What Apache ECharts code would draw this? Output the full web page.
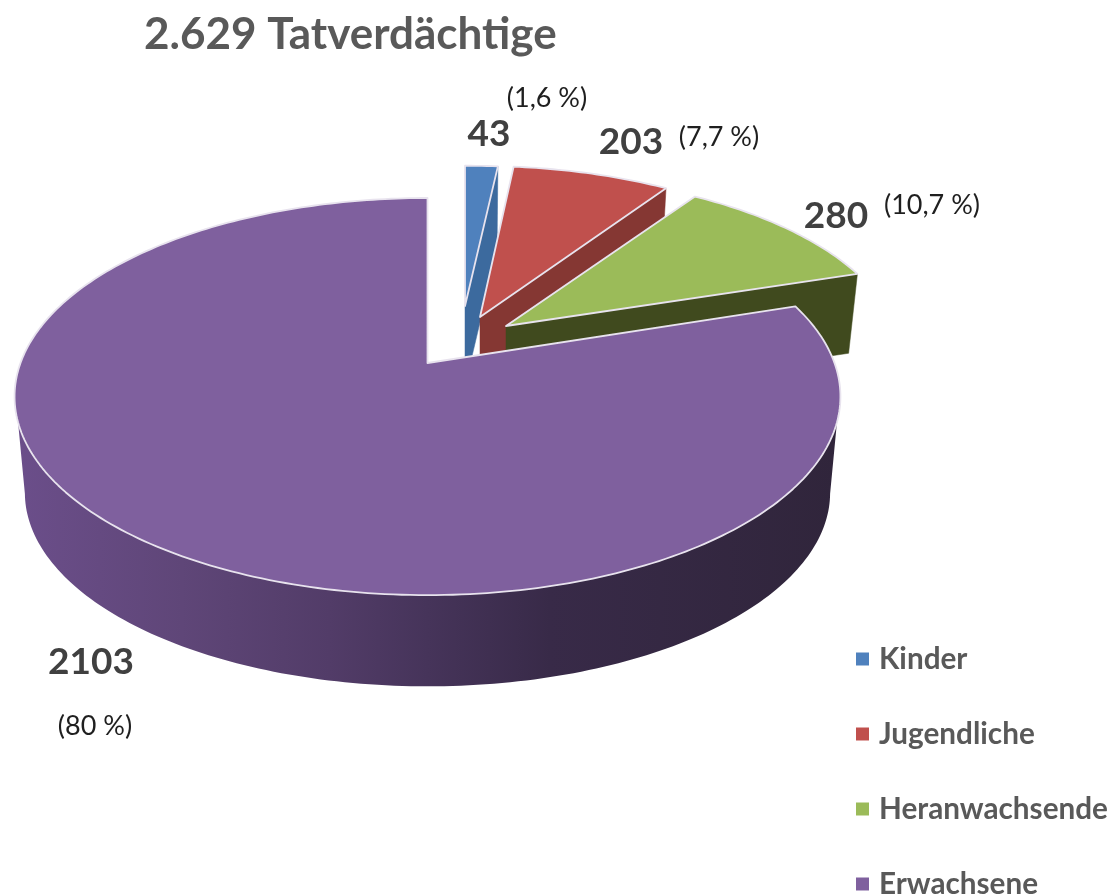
<!DOCTYPE html>
<html>
<head>
<meta charset="utf-8">
<style>html,body{margin:0;padding:0;background:#fff;overflow:hidden}#c{width:1113px;height:896px}</style>
<script src="https://cdn.jsdelivr.net/npm/echarts@6/dist/echarts.min.js"></script>
</head>
<body>
<div id="c"></div>
<script>
const titleText = '2.629 Tatverdächtige';
const categories = ['Kinder', 'Jugendliche', 'Heranwachsende', 'Erwachsene'];
const values = [43, 203, 280, 2103];
const percentLabels = ['(1,6 %)', '(7,7 %)', '(10,7 %)', '(80 %)'];

// styling and layout, separate from the data
const topColors = ['#4f81bd', '#c0504d', '#9bbb59', '#7f609e'];
const cutColors = ['#3c6a9e', '#853733', '#404a1e', '#4a355f'];
const apexX = [465, 480, 506, 427.5];
const apexY = [306, 317, 326, 363];
const scaleX = [0.92, 0.94, 0.955, 1];
const scaleY = [0.85, 0.915, 0.92, 1];
const depth = [80, 80, 78, 97];
const valueLabelX = [489, 631, 836, 91];
const valueLabelY = [134, 142, 216, 662];
const percentLabelX = [547, 719, 932, 95];
const percentLabelY = [98, 137, 205, 726];

const W = 407, H = 192.9, K = 0.169, BOTTOM_SCALE = 0.975;
const total = values.reduce((a, b) => a + b, 0);
const cum = values.reduce((acc, v) => { acc.push(acc[acc.length - 1] + v); return acc; }, [0]);
const deg = v => v / total * 360;

// perspective projection of a point on the unit disc, relative to the apex
function disc(t) {
  const r = t * Math.PI / 180, u = Math.sin(r), v = Math.cos(r), w = 1 + K * v;
  return [W * u / w, -H * v / w];
}
function topPt(i, t) {
  const p = disc(t);
  return [apexX[i] + p[0] * scaleX[i], apexY[i] + p[1] * scaleY[i]];
}
function botPt(i, t) {
  const p = disc(t);
  return [apexX[i] + p[0] * scaleX[i] * BOTTOM_SCALE,
          apexY[i] + p[1] * scaleY[i] * BOTTOM_SCALE + depth[i]];
}
function arc(fn, i, a, b) {
  const pts = [], n = Math.max(2, Math.ceil(Math.abs(b - a)));
  for (let k = 0; k <= n; k++) pts.push(fn(i, a + (b - a) * k / n));
  return pts;
}
const edge = { stroke: '#e8e3ee', lineWidth: 1.8, lineJoin: 'round' };

function makeRender(i) {
  return function () {
    const a = deg(cum[i]), b = deg(cum[i + 1]);
    const children = [];
    const apex = [apexX[i], apexY[i]];
    if (i < 3) {
      children.push({
        type: 'polygon',
        shape: { points: [apex, topPt(i, b), botPt(i, b), [apex[0], apex[1] + depth[i]]] },
        style: { fill: cutColors[i], stroke: cutColors[i], lineWidth: 0.5 }
      });
    } else {
      const side = arc(topPt, i, 107, 253).concat(arc(botPt, i, 260, 100));
      children.push({
        type: 'polygon',
        shape: { points: side },
        style: {
          fill: new echarts.graphic.LinearGradient(0, 0, 1, 0, [
            { offset: 0, color: '#6b4e8a' },
            { offset: 0.2, color: '#5f4678' },
            { offset: 0.38, color: '#523c68' },
            { offset: 0.5, color: '#46345a' },
            { offset: 0.65, color: '#382a48' },
            { offset: 1, color: '#30253b' }
          ])
        }
      });
    }
    children.push({
      type: 'polygon',
      shape: { points: [apex].concat(arc(topPt, i, a, b)) },
      style: Object.assign({ fill: topColors[i] }, edge)
    });
    children.push({
      type: 'text',
      style: {
        x: valueLabelX[i], y: valueLabelY[i], text: String(values[i]),
        fill: '#404040', align: 'center', verticalAlign: 'middle',
        font: 'bold 37px Lato'
      }
    });
    children.push({
      type: 'text',
      style: {
        x: percentLabelX[i], y: percentLabelY[i], text: percentLabels[i],
        fill: '#1f1f1f', align: 'center', verticalAlign: 'middle',
        font: '27px Lato'
      }
    });
    return { type: 'group', children };
  };
}

const chart = echarts.init(document.getElementById('c'), null, { renderer: 'canvas' });
chart.setOption({
  animation: false,
  backgroundColor: '#fff',
  title: {
    text: titleText, left: 139, top: 8,
    textStyle: { fontFamily: 'Lato', fontWeight: 'bold', fontSize: 44, color: '#595959' }
  },
  legend: {
    orient: 'vertical', left: 856, top: 642, height: 320, icon: 'rect',
    itemWidth: 13, itemHeight: 13, itemGap: 41, padding: 0,
    data: categories,
    textStyle: { fontFamily: 'Lato', fontWeight: 'bold', fontSize: 29.7, color: '#595959', padding: [0, 0, 0, 5], height: 34, lineHeight: 34 }
  },
  series: categories.map((name, i) => ({
    type: 'custom', name, coordinateSystem: 'none',
    silent: true, clip: false,
    itemStyle: { color: topColors[i] },
    data: [[values[i]]],
    renderItem: makeRender(i)
  }))
});
</script>
</body>
</html>
